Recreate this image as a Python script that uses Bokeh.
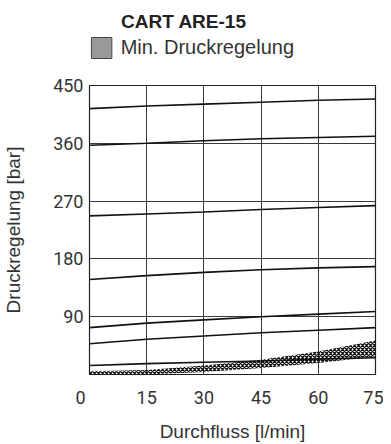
from bokeh.plotting import figure
from bokeh.layouts import column
from bokeh.models import FixedTicker
from bokeh.embed import file_html
from bokeh.resources import INLINE
from bokeh.core.properties import value

# ---- data ----
flow = [0, 15, 30, 45, 60, 75]
p1 = [414, 418, 421, 424, 427, 429]
p2 = [357, 360, 364, 367, 369, 371]
p3 = [247, 250, 253, 257, 260, 263]
p4 = [148, 154, 159, 163, 166, 168]
p5 = [73, 80, 85, 90, 94, 98]
p6 = [48, 55, 60, 65, 69, 73]
p7 = [14, 17, 19, 21, 24, 26]
min_low = [0, 0, 4, 10, 18, 28]
min_high = [5, 7, 14, 23, 36, 53]
x_ticks = [0, 15, 30, 45, 60, 75]
y_ticks = [90, 180, 270, 360, 450]
title_text = "CART ARE-15"
legend_text = "Min. Druckregelung"
x_title = "Durchfluss [l/min]"
y_title = "Druckregelung [bar]"

TICK_FONT = "Roboto"
TEXT_FONT = "Liberation Sans"

# ---- header (title + legend); x in page pixels over the chart's frame ----
h = figure(width=383, height=75, x_range=(81, 375), y_range=(75, 0),
           output_backend="svg", toolbar_location=None,
           x_axis_location=None, y_axis_location=None,
           min_border_left=81, min_border_right=8,
           min_border_top=0, min_border_bottom=0, outline_line_color=None)
h.grid.visible = False
h.text(x=[178], y=[21], text=[title_text], text_font=value(TEXT_FONT),
       text_font_size="19px", text_font_style="bold", text_color="#222222",
       text_align="center", text_baseline="middle")
h.quad(left=[83], right=[104], top=[37], bottom=[58],
       fill_color="#999999", line_color="#444444", line_width=1)
h.text(x=[113], y=[46], text=[legend_text], text_font=value(TEXT_FONT),
       text_font_size="20px", text_color="#333333",
       text_align="left", text_baseline="middle")

# ---- main chart ----
p = figure(width=383, height=369, x_range=(0, 75), y_range=(0, 450),
           output_backend="svg", toolbar_location=None,
           min_border_left=81, min_border_right=8,
           min_border_top=10, min_border_bottom=66)

p.outline_line_color = "#222222"
p.outline_line_width = 1.2

# grid
p.xgrid.ticker = FixedTicker(ticks=[15, 30, 45, 60])
p.ygrid.ticker = FixedTicker(ticks=[90, 180, 270, 360])
for g in (p.xgrid, p.ygrid):
    g.grid_line_color = "#3a3a3a"
    g.grid_line_width = 1

# axes
p.xaxis.ticker = FixedTicker(ticks=x_ticks)
p.yaxis.ticker = FixedTicker(ticks=y_ticks)
p.xaxis.major_label_overrides = {0: "0\u00a0\u00a0\u00a0\u00a0"}
for ax in (p.xaxis, p.yaxis):
    ax.axis_line_color = None
    ax.major_tick_line_color = None
    ax.minor_tick_line_color = None
    ax.major_tick_in = 0
    ax.major_tick_out = 0
    ax.major_label_text_font = TICK_FONT
    ax.major_label_text_font_size = "18px"
    ax.major_label_text_color = "#333333"
    ax.axis_label_text_font = TEXT_FONT
    ax.axis_label_text_font_size = "19px"
    ax.axis_label_text_font_style = "normal"
    ax.axis_label_text_color = "#333333"
p.xaxis.major_label_standoff = 12
p.yaxis.major_label_standoff = 6
p.xaxis.axis_label = x_title
p.yaxis.axis_label = y_title
p.xaxis.axis_label_standoff = 10
p.yaxis.axis_label_standoff = 26

# min pressure band (hatched)
p.varea(x=flow, y1=min_low, y2=min_high, fill_alpha=0,
        hatch_pattern="diagonal_cross", hatch_color="#111111",
        hatch_scale=4, hatch_weight=1.3, hatch_alpha=1)

# curves
for ys in (p1, p2, p3, p4, p5, p6, p7):
    p.line(flow, ys, line_color="#111111", line_width=1.6)

layout = column(h, p, spacing=0)
open("out.html", "w").write(file_html(layout, INLINE))
